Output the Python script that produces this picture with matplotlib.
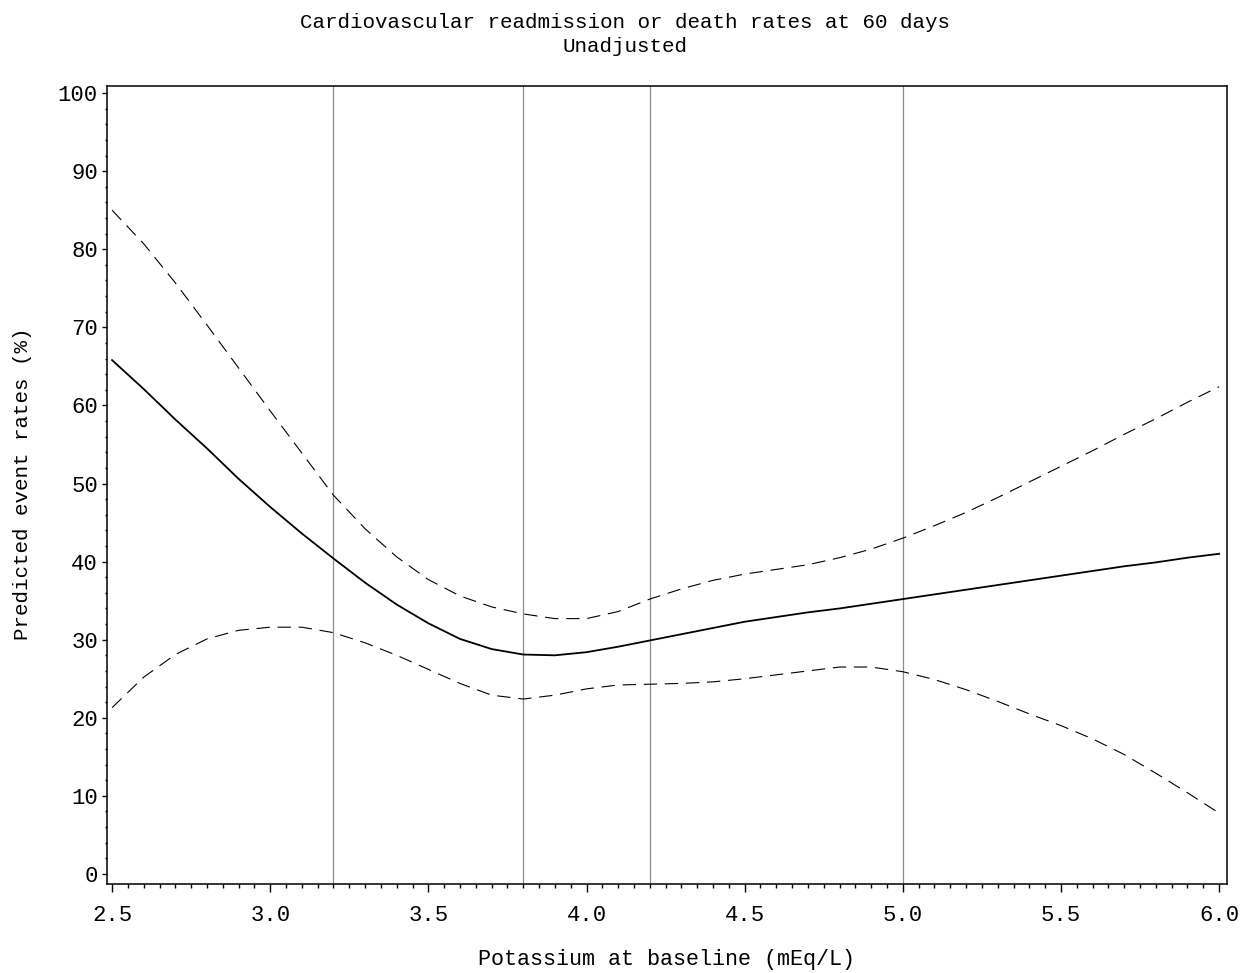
import matplotlib
matplotlib.use("Agg")
import matplotlib.pyplot as plt
from matplotlib.ticker import MultipleLocator, FormatStrFormatter

plt.rcParams['font.family'] = ['Liberation Mono', 'DejaVu Sans Mono']

# potassium grid (mEq/L) and read-off curves (%)
potassium = [2.5, 2.6, 2.7, 2.8, 2.9, 3.0, 3.1, 3.2, 3.3, 3.4, 3.5, 3.6,
             3.7, 3.8, 3.9, 4.0, 4.1, 4.2, 4.3, 4.4, 4.5, 4.6, 4.7, 4.8,
             4.9, 5.0, 5.1, 5.2, 5.3, 5.4, 5.5, 5.6, 5.7, 5.8, 5.9, 6.0]
rate = [65.8, 62.1, 58.2, 54.5, 50.6, 47.0, 43.6, 40.4, 37.3, 34.5, 32.1, 30.1,
        28.8, 28.1, 28.0, 28.4, 29.1, 29.9, 30.7, 31.5, 32.3, 32.9, 33.5, 34.0,
        34.6, 35.2, 35.8, 36.4, 37.0, 37.6, 38.2, 38.8, 39.4, 39.9, 40.5, 41.0]
upper = [85.0, 80.7, 75.7, 70.3, 64.8, 59.3, 53.9, 48.5, 44.2, 40.6, 37.7, 35.6,
         34.2, 33.3, 32.7, 32.7, 33.6, 35.2, 36.5, 37.6, 38.4, 39.0, 39.6, 40.5,
         41.6, 43.0, 44.6, 46.3, 48.2, 50.2, 52.2, 54.2, 56.3, 58.3, 60.4, 62.4]
lower = [21.3, 25.2, 28.1, 30.1, 31.2, 31.6, 31.6, 30.9, 29.6, 28.0, 26.2, 24.4,
         22.9, 22.4, 22.9, 23.7, 24.2, 24.3, 24.4, 24.6, 25.0, 25.5, 26.0, 26.5,
         26.5, 25.9, 24.9, 23.6, 22.1, 20.5, 19.0, 17.3, 15.3, 12.9, 10.4, 7.8]
ref_lines = [3.2, 3.8, 4.2, 5.0]

fig = plt.figure(figsize=(12.5, 9.73), dpi=100)
ax = fig.add_axes([0.0856, 0.0915, 0.896, 0.8201])

for xv in ref_lines:
    ax.axvline(xv, color='#8c8c8c', lw=0.9, zorder=1)

ax.plot(potassium, rate, color='black', lw=1.3, zorder=3)
ax.plot(potassium, upper, color='black', lw=0.8, ls=(0, (12, 7)), zorder=3)
ax.plot(potassium, lower, color='black', lw=0.8, ls=(0, (12, 7)), zorder=3)

ax.set_xlim(2.484, 6.025)
ax.set_ylim(-1.28, 100.9)
ax.xaxis.set_major_locator(MultipleLocator(0.5))
ax.xaxis.set_minor_locator(MultipleLocator(0.05))
ax.yaxis.set_major_locator(MultipleLocator(10))
ax.yaxis.set_minor_locator(MultipleLocator(2))
ax.xaxis.set_major_formatter(FormatStrFormatter('%.1f'))
ax.tick_params(axis='x', which='major', length=6, width=1, labelsize=16, pad=9.5)
ax.tick_params(axis='x', which='minor', length=3, width=1)
ax.tick_params(axis='y', which='major', length=3.5, width=1, labelsize=16, pad=3)
ax.tick_params(axis='y', which='minor', length=1.5, width=1)
for s in ax.spines.values():
    s.set_linewidth(1.1)

fig.text(0.5, 1 - 22 / 973, 'Cardiovascular readmission or death rates at 60 days',
         ha='center', va='center', fontsize=15)
fig.text(0.5, 1 - 47 / 973, 'Unadjusted', ha='center', va='center', fontsize=15)
fig.text(667 / 1250, 1 - 960 / 973, 'Potassium at baseline (mEq/L)',
         ha='center', va='center', fontsize=15.7)
fig.text(23 / 1250, 1 - 484 / 973, 'Predicted event rates (%)',
         ha='center', va='center', rotation=90, fontsize=15)

fig.savefig('out.png', dpi=100)
